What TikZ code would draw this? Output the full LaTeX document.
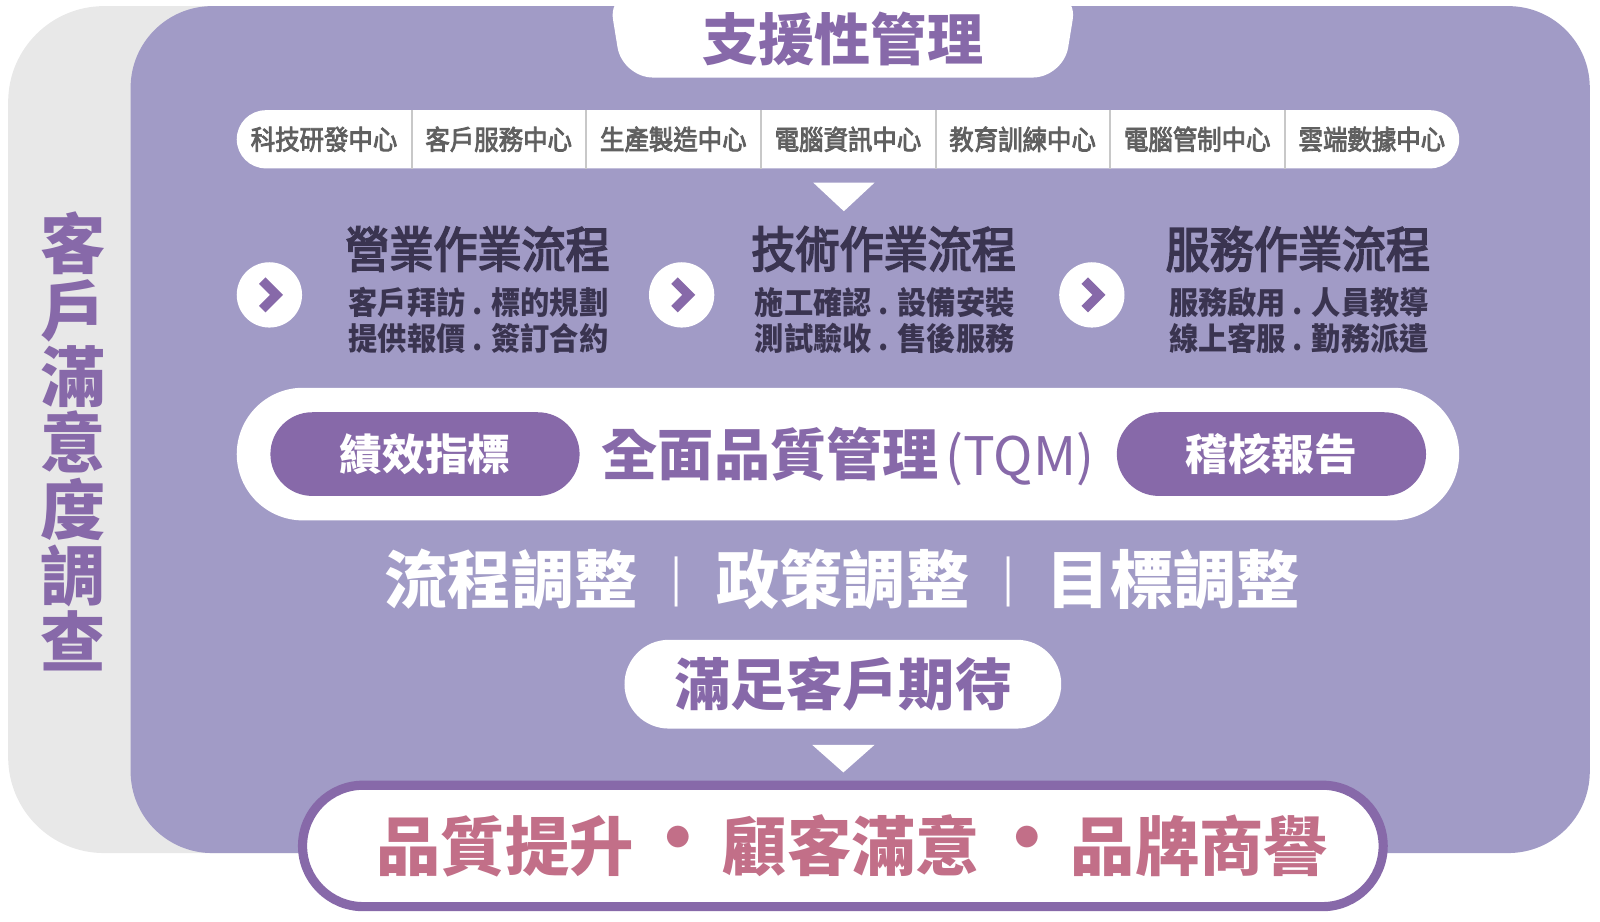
\documentclass[tikz,border=0pt]{standalone}
\usepackage{fontspec}
\newfontfamily\cjk{Noto Sans CJK TC}
\newfontfamily\cjkcell[FakeBold=3,FakeStretch=0.9]{Noto Sans CJK TC}
\newfontfamily\cjkmedc[FakeBold=3.5,FakeStretch=0.9]{Noto Sans CJK TC}
\newfontfamily\cjkmeds[FakeStretch=0.93]{Noto Sans CJK TC}
\definecolor{panel}{HTML}{A19BC6}
\definecolor{graybg}{HTML}{E8E8E8}
\definecolor{dpurple}{HTML}{8769A9}
\definecolor{pinktxt}{HTML}{C26F88}
\definecolor{darktxt}{HTML}{3A3450}
\definecolor{graytxt}{HTML}{606060}
\definecolor{divgray}{HTML}{C8C8C8}
\tikzset{
  fs/.style={font=\cjk\fontsize{#1}{#1}\selectfont},
  fsb/.style={font=\cjk\bfseries\fontsize{#1}{#1}\selectfont},
  cell/.style={minimum width=85.57pt, minimum height=28.5pt, inner sep=0pt, text=graytxt, font=\cjkcell\fontsize{13.3}{13.3}\selectfont},
  divider/.style={draw=divgray, line width=1pt},
  circ/.style={circle, fill=white, minimum size=32pt, inner sep=0pt},
  chev/.style={draw=dpurple, line width=4.5pt, line join=miter},
  ptitle/.style={text=darktxt, font=\cjkmedc\fontsize{24}{24}\selectfont, inner sep=0pt},
  psub/.style={text=darktxt, font=\cjkmeds\bfseries\fontsize{15.4}{15.4}\selectfont, inner sep=0pt},
  dpill/.style={fill=dpurple, minimum width=151.5pt, minimum height=41pt, rounded corners=20.5pt, text=white, fsb=21, inner sep=0pt},
  adj/.style={text=white, fsb=31, inner sep=0pt},
  res/.style={text=pinktxt, fsb=31.5, inner sep=0pt},
}
\begin{document}
\begin{tikzpicture}[x=0.5pt,y=-0.5pt]
\useasboundingbox (0,0) rectangle (1568,903.56);
% backgrounds
\fill[graybg, rounded corners=47pt] (8,6) rectangle (700,836);
\fill[panel, rounded corners=40pt] (128,6) rectangle (1558,836);
\fill[white, rounded corners=15pt] (596,-10) -- (610,76) -- (1042,76) -- (1056,-10) -- cycle;
\node[fsb=27.5, text=dpurple, inner sep=0pt] (title) at (826,38) {支援性管理};
% centers row
\node[fill=white, minimum width=599pt, minimum height=28.5pt, rounded corners=14.25pt, inner sep=0pt] (row) at (831,136.5) {};
\node[cell] (c1) at (317.57,136.5) {科技研發中心};
\node[cell] (c2) at (488.71,136.5) {客戶服務中心};
\node[cell] (c3) at (659.86,136.5) {生產製造中心};
\node[cell] (c4) at (831,136.5) {電腦資訊中心};
\node[cell] (c5) at (1002.14,136.5) {教育訓練中心};
\node[cell] (c6) at (1173.29,136.5) {電腦管制中心};
\node[cell] (c7) at (1344.43,136.5) {雲端數據中心};
\foreach \c in {c1,c2,c3,c4,c5,c6}{\draw[divider] (\c.north east) -- (\c.south east);}
\fill[white] (797,179) -- (857,179) -- (827,207) -- cycle;
% processes
\node[circ] (ch1) at (264,289) {};
\node[circ] (ch2) at (668,289) {};
\node[circ] (ch3) at (1070,289) {};
\foreach \c in {ch1,ch2,ch3}{\draw[chev] ([shift={(-7,-14)}]\c.center) -- ([shift={(7,0)}]\c.center) -- ([shift={(-7,14)}]\c.center);}
\node[ptitle] (t1) at (468,244) {營業作業流程};
\node[ptitle] (t2) at (866,244) {技術作業流程};
\node[ptitle] (t3) at (1272,244) {服務作業流程};
\node[psub] (s1a) at (469,296) {客戶拜訪 . 標的規劃};
\node[psub] (s1b) at (469,332) {提供報價 . 簽訂合約};
\node[psub] (s2a) at (867,296) {施工確認 . 設備安裝};
\node[psub] (s2b) at (867,332) {測試驗收 . 售後服務};
\node[psub] (s3a) at (1273,296) {服務啟用 . 人員教導};
\node[psub] (s3b) at (1273,332) {線上客服 . 勤務派遣};
% TQM
\node[fill=white, minimum width=599pt, minimum height=65pt, rounded corners=32.5pt, inner sep=0pt] (tqm) at (831,445) {};
\node[dpill] (kpi) at (416.5,445) {績效指標};
\node[dpill] (audit) at (1246,445) {稽核報告};
\node[text=dpurple, inner sep=0pt] (tqmtxt) at (831,447) {{\cjk\bfseries\fontsize{27.5}{27.5}\selectfont 全面品質管理} {\cjk\fontsize{26}{26}\selectfont (TQM)}};
% adjustments
\node[adj] (a1) at (501,568) {流程調整};
\node[text=white, fs=22, inner sep=0pt] (bar1) at (663,570) {|};
\node[adj] (a2) at (826,568) {政策調整};
\node[text=white, fs=22, inner sep=0pt] (bar2) at (988,570) {|};
\node[adj] (a3) at (1150,568) {目標調整};
% satisfy
\node[fill=white, minimum width=214pt, minimum height=43.5pt, rounded corners=21.75pt, text=dpurple, fsb=27.5, inner sep=0pt] (sat) at (826,670.5) {滿足客戶期待};
\fill[white] (796,730) -- (857,730) -- (826.5,757) -- cycle;
% result
\node[draw=dpurple, line width=4.5pt, fill=white, minimum width=529.5pt, minimum height=59.5pt, rounded corners=29.75pt, inner sep=0pt] (result) at (826,829) {};
\node[res] (r1) at (495,829) {品質提升};
\node[res, fsb=38] (d1) at (665,829) {・};
\node[res] (r2) at (834.5,829) {顧客滿意};
\node[res, fsb=38] (d2) at (1007,829) {・};
\node[res] (r3) at (1175.5,829) {品牌商譽};
% vertical
\node[text=dpurple, align=center, inner sep=0pt, font=\cjk\bfseries\fontsize{32}{32.5}\selectfont] (survey) at (72,433) {客\\戶\\滿\\意\\度\\調\\查};
\end{tikzpicture}
\end{document}
